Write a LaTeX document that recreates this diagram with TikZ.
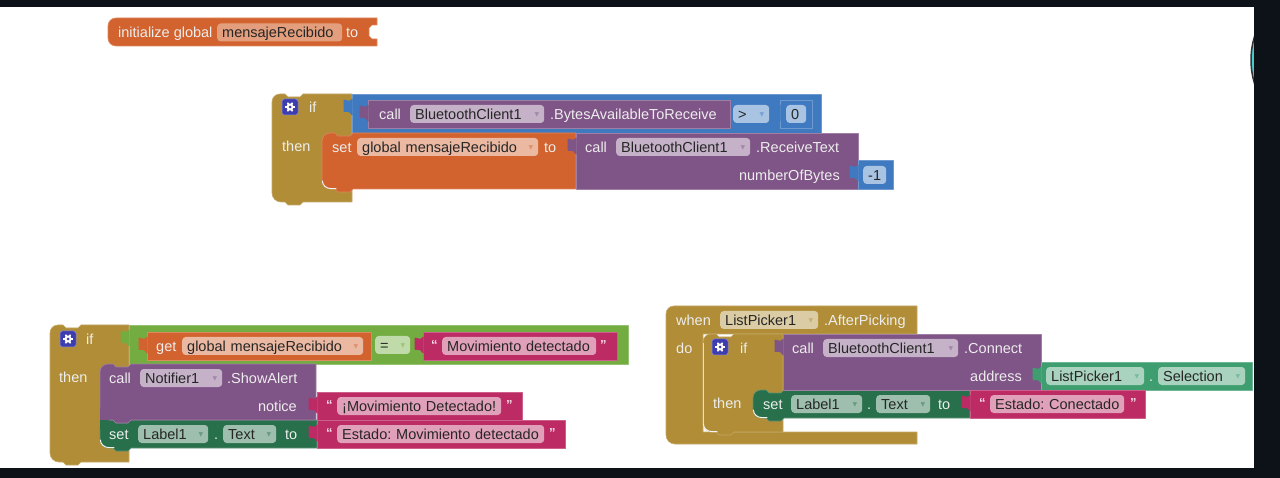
\documentclass[tikz,border=0pt]{standalone}
\usepackage{fontspec}
\setmainfont{Liberation Sans}
\newfontfamily\arrowfont{DejaVu Sans}
\definecolor{corange}{HTML}{D2622E}
\definecolor{colive}{HTML}{B08D36}
\definecolor{cblue}{HTML}{3F79BF}
\definecolor{cpurple}{HTML}{7F5486}
\definecolor{cdkgreen}{HTML}{27704B}
\definecolor{cmagenta}{HTML}{BC2B63}
\definecolor{cgreen}{HTML}{73AC41}
\definecolor{cteal}{HTML}{3F9E70}
\definecolor{cdark}{HTML}{0D1219}
\definecolor{cgear}{HTML}{3D3DB0}
% dropdown mark inside a field
\newcommand{\dd}[1]{\hfill\raisebox{2.5pt}{\arrowfont\fontsize{6}{6}\selectfont\textcolor{#1!70!white}{▼}}\hspace{3pt}}
% statement block: x, top, right, bottom, colour
\newcommand{\stmtblock}[5]{
  \draw[blk,fill=#5,draw=#5!75!white] (#1,#2+8) .. controls (#1,#2+3.5) and (#1+3.5,#2) .. (#1+8,#2)
    -- (#1+13,#2) -- (#1+16,#2+3) -- (#1+28,#2+3) -- (#1+31,#2) -- (#3,#2) -- (#3,#4)
    -- (#1+31,#4) -- (#1+28,#4+3) -- (#1+16,#4+3) -- (#1+13,#4) -- (#1+9,#4)
    .. controls (#1+4,#4) and (#1,#4-4) .. (#1,#4-9) -- cycle;}
\newcommand{\crescent}[2]{
  \draw[white!90!gray,line width=1pt,line cap=round] (#1+.4,#2-8) .. controls (#1+.4,#2-4)
    and (#1+4,#2-.4) .. (#1+9,#2-.4) -- (#1+14,#2-.4);}
% value block with its tab on the left: x, top, right, bottom, colour
\newcommand{\valblock}[5]{
  \draw[blk,fill=#5,draw=#5!75!white] (#1,#2) -- (#3,#2) -- (#3,#4) -- (#1,#4) -- cycle;
  \fill[#5,rounded corners=.8pt] (#1+.5,#2+4) -- (#1-2.5,#2+7) -- (#1-8.5,#2+5.5) -- (#1-8.5,#2+18)
    -- (#1-3,#2+18) -- (#1+.5,#2+22) -- cycle;}
\begin{document}
\begin{tikzpicture}[
  x=1pt,y=-1pt,
  font=\fontsize{14.5}{16}\selectfont\frenchspacing,
  blk/.style={line width=.6pt,line join=round},
  lbl/.style={anchor=west,inner sep=0pt,text=white!93!black,text height=12pt,text depth=1.5pt},
  lblr/.style={lbl,anchor=east},
  quot/.style={lbl,font=\fontsize{13}{13}\selectfont\bfseries,text=white!85!#1},
  fld/.style 2 args={anchor=west,fill=#1!45!white,rounded corners=3.5pt,text=black!85,
    inner xsep=5pt,inner ysep=2.25pt,text height=12pt,text depth=1.5pt,
    text width=#2pt-10pt,align=left},
  gearbox/.style={fill=cgear,draw=cgear!60!white,line width=.5pt,rounded corners=2.5pt,
    minimum size=16pt,inner sep=0pt}]
\useasboundingbox (0,0) rectangle (1280,478);
\fill[cdark] (0,0) rectangle (1280,478);
\fill[white] (0,7) rectangle (1254,468);
\draw[black!80,fill=teal!60!cyan!70!white,line width=1.5pt] (1331,60) circle (80);
\fill[cdark] (1254,0) rectangle (1280,478);

% initialize
\draw[blk,fill=corange,draw=corange!75!white] (108,26) .. controls (108,21.5) and (111.5,18) .. (116,18) -- (377,18)
  -- (377,25) -- (372,25) -- (369,28) -- (369,36) -- (372,39) -- (377,39) -- (377,46)
  -- (116,46) .. controls (111.5,46) and (108,42.5) .. (108,38) -- cycle;
\node[lbl] (initLbl) at (118,32.5) {initialize global};
\node[fld={corange}{125},fill=corange!62!white] (initName) at (217,32.5) {mensajeRecibido};
\node[lbl] (initTo) at (346,32.5) {to};

% first if
\stmtblock{272}{94}{352}{202}{colive}
\node[gearbox] (gearA) at (290,107) {};
\node[lbl] (ifA) at (309,107) {if};
\node[lbl] (thenA) at (282,146) {then};
\valblock{352}{94}{821}{133}{cblue}
\valblock{368}{100}{730}{128}{cpurple}
\node[lbl] (callA) at (379,114) {call};
\node[fld={cpurple}{134}] (btA) at (410,114) {BluetoothClient1\dd{cpurple}};
\node[lbl] (bytesA) at (550,114) {.BytesAvailableToReceive};
\node[fld={cblue}{36}] (gtA) at (733,114) {>\dd{cblue}};
\valblock{780}{100}{812}{128}{cblue}
\node[fld={cblue}{20}] (zeroA) at (786,114) {0};
\stmtblock{322}{133}{576}{189}{corange}
\crescent{322}{189}
\node[lbl] (setA) at (332,147) {set};
\node[fld={corange}{181}] (globalA) at (357,147) {global mensajeRecibido\dd{corange}};
\node[lbl] (toA) at (544,147) {to};
\valblock{576}{133}{858}{189}{cpurple}
\node[lbl] (callB) at (585,147) {call};
\node[fld={cpurple}{134}] (btB) at (616,147) {BluetoothClient1\dd{cpurple}};
\node[lbl] (recvB) at (756,147) {.ReceiveText};
\node[lblr] (numB) at (840,175) {numberOfBytes};
\valblock{858}{160}{893}{189}{cblue}
\node[fld={cblue}{23}] (minusB) at (863,175) {-1};

% second if
\stmtblock{50}{325}{129}{462}{colive}
\node[gearbox] (gearC) at (68,339) {};
\node[lbl] (ifC) at (86,339) {if};
\node[lbl] (thenC) at (59,377) {then};
\valblock{129}{325}{628}{364}{cgreen}
\valblock{147}{332}{371}{360}{corange}
\node[lbl] (getC) at (156,346) {get};
\node[fld={corange}{181}] (globalC) at (182,346) {global mensajeRecibido\dd{corange}};
\node[fld={cgreen}{35}] (eqC) at (375,345) {=\dd{cgreen}};
\valblock{423}{332}{617}{360}{cmagenta}
\node[quot=cmagenta] (qaC) at (431,344) {“};
\node[fld={cmagenta}{154}] (txtC) at (442,346) {Movimiento detectado};
\node[quot=cmagenta] (qbC) at (600,344) {”};
\stmtblock{100}{420}{317}{448}{cdkgreen}
\crescent{100}{448}
\fill[cdkgreen] (100,420) rectangle (110,430);
\stmtblock{100}{364}{316}{420}{cpurple}
\fill[cpurple] (100,408) rectangle (110,420);
\node[lbl] (callC) at (109,378) {call};
\node[fld={cpurple}{82}] (notifC) at (140,378) {Notifier1\dd{cpurple}};
\node[lbl] (alertC) at (227,378) {.ShowAlert};
\node[lblr] (noticeC) at (297,406) {notice};
\valblock{317}{392}{522}{420}{cmagenta}
\node[quot=cmagenta] (qaD) at (326,404) {“};
\node[fld={cmagenta}{164}] (txtD) at (337,406) {\mbox{¡Movimiento Detectado!}};
\node[quot=cmagenta] (qbD) at (506,404) {”};
\node[lbl] (setD) at (109,434) {set};
\node[fld={cdkgreen}{70}] (labelD) at (138,434) {Label1\dd{cdkgreen}};
\node[lbl] (dotD) at (214,434) {.};
\node[fld={cdkgreen}{53}] (textD) at (223,434) {Text\dd{cdkgreen}};
\node[lbl] (toD) at (285,434) {to};
\valblock{317}{420}{565}{448}{cmagenta}
\node[quot=cmagenta] (qaE) at (326,432) {“};
\node[fld={cmagenta}{207}] (txtE) at (337,434) {\mbox{Estado: Movimiento detectado}};
\node[quot=cmagenta] (qbE) at (549,432) {”};

% when
\draw[blk,fill=colive,draw=colive!75!white] (666,314) .. controls (666,309.5) and (669.5,306) .. (674,306) -- (917,306)
  -- (917,334) -- (703,334) -- (703,432) -- (917,432) -- (917,444) -- (675,444)
  .. controls (670,444) and (666,440) .. (666,435) -- cycle;
\node[lbl] (whenF) at (676,320) {when};
\node[fld={colive}{98}] (pickF) at (720,320) {ListPicker1\dd{colive}};
\node[lbl] (afterF) at (824,320) {.AfterPicking};
\node[lbl] (doF) at (676,348) {do};
\stmtblock{703}{334}{783}{432}{colive}
\draw[white!70!colive,line width=.8pt] (703.5,343) -- (703.5,425);
\crescent{703}{432}
\node[gearbox] (gearF) at (720,347) {};
\node[lbl] (ifF) at (740,348) {if};
\node[lbl] (thenF) at (713,403) {then};
\stmtblock{753}{390}{970}{418}{cdkgreen}
\crescent{753}{418}
\valblock{783}{334}{1041}{390}{cpurple}
\node[lbl] (callF) at (792,348) {call};
\node[fld={cpurple}{135}] (btF) at (823,348) {BluetoothClient1\dd{cpurple}};
\node[lbl] (connF) at (964,348) {.Connect};
\node[lblr] (addrF) at (1022,376) {address};
\valblock{1041}{362}{1252}{390}{cteal}
\node[fld={cteal}{98}] (pickG) at (1046,376) {ListPicker1\dd{cteal}};
\node[lbl] (dotG) at (1149,376) {.};
\node[fld={cteal}{87}] (selG) at (1158,376) {Selection\dd{cteal}};
\node[lbl] (setF) at (763,404) {set};
\node[fld={cdkgreen}{71}] (labelF) at (791,404) {Label1\dd{cdkgreen}};
\node[lbl] (dotF) at (867,404) {.};
\node[fld={cdkgreen}{54}] (textF) at (876,404) {Text\dd{cdkgreen}};
\node[lbl] (toF) at (938,404) {to};
\valblock{970}{390}{1145}{418}{cmagenta}
\node[quot=cmagenta] (qaF) at (979,402) {“};
\node[fld={cmagenta}{134}] (txtF) at (990,404) {\mbox{Estado: Conectado}};
\node[quot=cmagenta] (qbF) at (1130,402) {”};

% gears
\foreach \g in {gearA,gearC,gearF} {
  \fill[white] (\g) circle (3.6);
  \foreach \a in {0,60,...,300}
    \draw[white,line width=1.6pt] (\g) ++(\a:3) -- ++(\a:2);
  \fill[cgear] (\g) circle (1.5);
}
\end{tikzpicture}
\end{document}
